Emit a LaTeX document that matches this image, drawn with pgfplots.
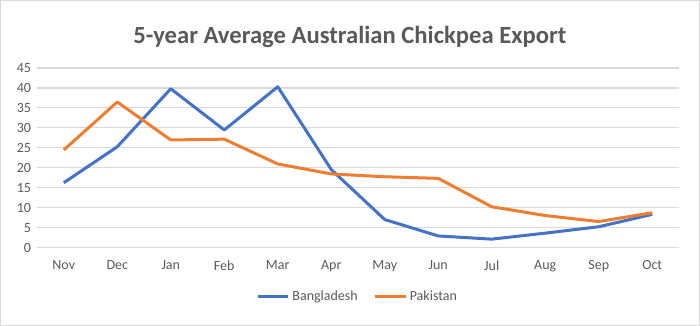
\documentclass[border=0pt]{standalone}
\usepackage{pgfplots}
\pgfplotsset{compat=1.18}
\usepackage{fontspec}
\setmainfont{Carlito}
\usetikzlibrary{calc}
\definecolor{cblue}{HTML}{4472C4}
\definecolor{corange}{HTML}{ED7D31}
\definecolor{gridc}{HTML}{D9D9D9}
\definecolor{txt}{HTML}{595959}
\begin{document}
\begin{tikzpicture}
\begin{axis}[name=ax,
  scale only axis, width=481.5pt, height=135pt,
  xmin=-0.5, xmax=11.5, ymin=0, ymax=45,
  xtick={0,...,11},
  xticklabels={Nov,Dec,Jan,Feb,Mar,Apr,May,Jun,Jul,Aug,Sep,Oct},
  ytick={0,5,...,45},
  xmajorgrids=false, ymajorgrids=true,
  major grid style={draw=gridc, line width=0.8pt},
  axis line style={draw=none},
  major tick length=0pt,
  tick label style={font=\fontsize{10.5}{12}\selectfont, text=txt},
  /pgf/number format/assume math mode=true,
  xticklabel style={yshift=-6pt},
  yticklabel style={xshift=-1pt},
  legend style={at={(0.5,-0.272)}, anchor=center, draw=none, legend columns=2,
    font=\fontsize{10.5}{12}\selectfont, text=txt,
    /tikz/every even column/.append style={column sep=10pt}},
  legend image code/.code={\draw[#1, line width=2.25pt] (0,0) -- (0.8cm,0);},
  clip=false,
]
\addplot[cblue, line width=2.25pt, line join=round] coordinates {
(0,16.3) (1,25.3) (2,39.8) (3,29.5) (4,40.3) (5,19.6) (6,7.1) (7,3.0) (8,2.2) (9,3.7) (10,5.3) (11,8.4)};
\addlegendentry{Bangladesh}
\addplot[corange, line width=2.25pt, line join=round] coordinates {
(0,24.5) (1,36.5) (2,27.0) (3,27.2) (4,21.0) (5,18.5) (6,17.8) (7,17.4) (8,10.3) (9,8.1) (10,6.6) (11,8.8)};
\addlegendentry{Pakistan}
\end{axis}
\node[font=\bfseries\fontsize{18.5}{22}\selectfont, text=txt] at ($(ax.south west)+(234.75pt,158.25pt)$) {5-year Average Australian Chickpea Export};
\draw[gridc, line width=0.75pt] ($(ax.south west)+(-27.4pt,-58.1pt)$) rectangle ($(ax.south west)+(496.9pt,185.6pt)$);
\end{tikzpicture}
\end{document}
